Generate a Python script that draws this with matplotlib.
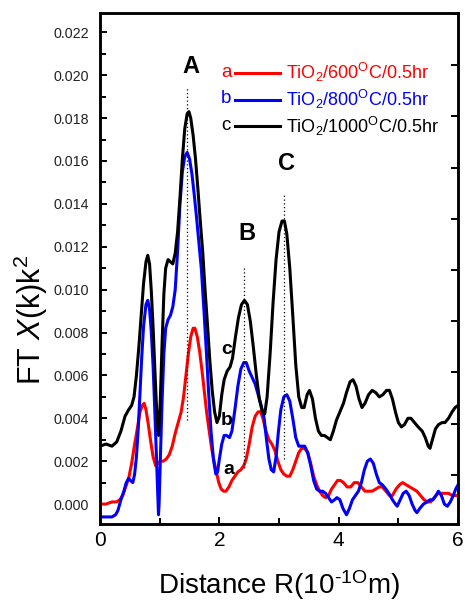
import matplotlib
matplotlib.use("Agg")
import matplotlib.pyplot as plt
from matplotlib.ticker import MultipleLocator

plt.rcParams['font.family'] = ['Liberation Sans', 'DejaVu Sans']
plt.rcParams['mathtext.fontset'] = 'custom'
plt.rcParams['mathtext.rm'] = 'Liberation Sans'
plt.rcParams['mathtext.it'] = 'Liberation Sans:italic'
plt.rcParams['mathtext.bf'] = 'Liberation Sans:bold'

# ---- data (R in 1e-10 m, FT magnitude) ----
c_x = [0.00, 0.10, 0.20, 0.28, 0.35, 0.42, 0.48, 0.53, 0.57, 0.61, 0.65, 0.69, 0.73, 0.77, 0.80,
       0.83, 0.86, 0.89, 0.92, 0.95, 0.98, 1.01, 1.04, 1.07, 1.10, 1.14, 1.18, 1.22, 1.26, 1.30,
       1.34, 1.38, 1.42, 1.46, 1.49, 1.52, 1.56, 1.60, 1.64, 1.68, 1.72, 1.76, 1.80, 1.84, 1.88,
       1.92, 1.96, 2.00, 2.04, 2.08, 2.13, 2.18, 2.22, 2.27, 2.32, 2.37, 2.42, 2.47, 2.52, 2.57,
       2.62, 2.67, 2.72, 2.76, 2.80, 2.85, 2.90, 2.95, 3.00, 3.05, 3.09, 3.13, 3.18, 3.23, 3.28,
       3.33, 3.38, 3.42, 3.47, 3.51, 3.56, 3.61, 3.66, 3.71, 3.76, 3.81, 3.86, 3.91, 3.96, 4.02,
       4.08, 4.13, 4.19, 4.24, 4.29, 4.34, 4.39, 4.44, 4.50, 4.56, 4.62, 4.68, 4.74, 4.80, 4.85,
       4.90, 4.95, 5.00, 5.05, 5.10, 5.16, 5.21, 5.27, 5.33, 5.40, 5.45, 5.50, 5.53, 5.57, 5.62,
       5.67, 5.73, 5.78, 5.84, 5.90, 5.95, 6.00]
c_y = [0.0027, 0.0028, 0.0027, 0.0029, 0.0034, 0.0041, 0.0044, 0.0046, 0.0050, 0.0060, 0.0073,
       0.0088, 0.0103, 0.0113, 0.0116, 0.0112, 0.0099, 0.0082, 0.0062, 0.0043, 0.0032, 0.0048,
       0.0075, 0.0098, 0.0110, 0.0114, 0.0113, 0.0112, 0.0117, 0.0127, 0.0143, 0.0161, 0.0175,
       0.0182, 0.0183, 0.0180, 0.0172, 0.0161, 0.0147, 0.0132, 0.0118, 0.0100, 0.0084, 0.0067,
       0.0053, 0.0043, 0.0038, 0.0041, 0.0051, 0.0058, 0.0062, 0.0064, 0.0068, 0.0078, 0.0087,
       0.0093, 0.0095, 0.0093, 0.0085, 0.0073, 0.0060, 0.0049, 0.0043, 0.0042, 0.0050, 0.0070,
       0.0094, 0.0114, 0.0127, 0.0132, 0.0132, 0.0126, 0.0110, 0.0088, 0.0065, 0.0050, 0.0045,
       0.0045, 0.0051, 0.0053, 0.0049, 0.0040, 0.0034, 0.0032, 0.0032, 0.0031, 0.0030, 0.0034,
       0.0039, 0.0043, 0.0047, 0.0052, 0.0057, 0.0058, 0.0055, 0.0049, 0.0045, 0.0047, 0.0051,
       0.0053, 0.0052, 0.0050, 0.0051, 0.0053, 0.0053, 0.0049, 0.0043, 0.0038, 0.0036, 0.0037,
       0.0040, 0.0040, 0.0038, 0.0036, 0.0034, 0.0031, 0.0027, 0.0026, 0.0030, 0.0035, 0.0037,
       0.0038, 0.0038, 0.0040, 0.0043, 0.0045, 0.0046]

b_x = [0.00, 0.10, 0.20, 0.26, 0.30, 0.35, 0.40, 0.44, 0.48, 0.51, 0.55, 0.58, 0.61, 0.64, 0.67,
       0.70, 0.73, 0.77, 0.80, 0.83, 0.86, 0.89, 0.92, 0.95, 0.97, 0.98, 0.99, 1.01, 1.04, 1.07,
       1.10, 1.14, 1.18, 1.22, 1.26, 1.30, 1.34, 1.38, 1.42, 1.46, 1.50, 1.54, 1.58, 1.62, 1.66,
       1.70, 1.74, 1.78, 1.82, 1.86, 1.90, 1.94, 1.97, 2.00, 2.04, 2.08, 2.12, 2.17, 2.21, 2.26,
       2.31, 2.36, 2.41, 2.45, 2.50, 2.55, 2.60, 2.65, 2.70, 2.75, 2.79, 2.83, 2.87, 2.91, 2.95,
       2.99, 3.03, 3.08, 3.13, 3.18, 3.23, 3.28, 3.33, 3.38, 3.43, 3.48, 3.53, 3.58, 3.63, 3.68,
       3.73, 3.78, 3.83, 3.88, 3.93, 3.97, 4.02, 4.07, 4.13, 4.18, 4.23, 4.28, 4.33, 4.38, 4.43,
       4.48, 4.53, 4.58, 4.63, 4.68, 4.73, 4.79, 4.84, 4.90, 4.95, 4.98, 5.03, 5.08, 5.13, 5.18,
       5.23, 5.28, 5.31, 5.36, 5.42, 5.48, 5.53, 5.58, 5.63, 5.67, 5.72, 5.77, 5.82, 5.87, 5.92,
       5.96, 6.00]
b_y = [-0.0006, -0.0006, -0.0006, -0.0005, -0.0003, 0.0002, 0.0006, 0.0010, 0.0012, 0.0011,
       0.0010, 0.0014, 0.0022, 0.0035, 0.0052, 0.0069, 0.0083, 0.0093, 0.0095, 0.0091, 0.0080,
       0.0064, 0.0042, 0.0018, 0.0001, -0.0005, 0.0000, 0.0020, 0.0048, 0.0070, 0.0082, 0.0086,
       0.0088, 0.0092, 0.0100, 0.0118, 0.0140, 0.0155, 0.0162, 0.0164, 0.0161, 0.0154, 0.0144,
       0.0133, 0.0121, 0.0109, 0.0091, 0.0072, 0.0052, 0.0034, 0.0021, 0.0014, 0.0015, 0.0021,
       0.0028, 0.0032, 0.0032, 0.0031, 0.0034, 0.0044, 0.0055, 0.0063, 0.0066, 0.0066, 0.0062,
       0.0059, 0.0056, 0.0051, 0.0046, 0.0040, 0.0030, 0.0021, 0.0016, 0.0015, 0.0022, 0.0034,
       0.0044, 0.0050, 0.0051, 0.0048, 0.0040, 0.0031, 0.0027, 0.0027, 0.0027, 0.0024, 0.0018,
       0.0011, 0.0007, 0.0006, 0.0006, 0.0005, 0.0003, 0.0001, 0.0002, 0.0003, 0.0002, -0.0002,
       -0.0005, -0.0002, 0.0002, 0.0004, 0.0006, 0.0010, 0.0016, 0.0020, 0.0021, 0.0019, 0.0014,
       0.0010, 0.0009, 0.0007, 0.0005, 0.0002, 0.0000, -0.0001, 0.0002, 0.0005, 0.0006, 0.0004,
       0.0000, -0.0003, -0.0004, -0.0002, 0.0000, 0.0001, 0.0002, 0.0002, 0.0004, 0.0006, 0.0004,
       0.0000, -0.0001, 0.0001, 0.0004, 0.0007, 0.0009]

a_x = [0.00, 0.10, 0.20, 0.28, 0.33, 0.38, 0.43, 0.48, 0.53, 0.58, 0.63, 0.67, 0.71, 0.74, 0.77,
       0.81, 0.85, 0.89, 0.93, 0.97, 1.01, 1.06, 1.11, 1.16, 1.21, 1.26, 1.31, 1.36, 1.40, 1.44,
       1.48, 1.52, 1.56, 1.59, 1.63, 1.67, 1.71, 1.75, 1.79, 1.83, 1.87, 1.91, 1.95, 1.99, 2.03,
       2.07, 2.11, 2.16, 2.21, 2.26, 2.31, 2.36, 2.41, 2.45, 2.50, 2.55, 2.60, 2.65, 2.69, 2.73,
       2.78, 2.83, 2.88, 2.93, 2.98, 3.03, 3.08, 3.13, 3.18, 3.23, 3.28, 3.33, 3.38, 3.43, 3.48,
       3.53, 3.58, 3.63, 3.68, 3.73, 3.78, 3.83, 3.88, 3.93, 3.98, 4.03, 4.08, 4.14, 4.20, 4.26,
       4.32, 4.38, 4.44, 4.50, 4.56, 4.62, 4.68, 4.73, 4.79, 4.85, 4.90, 4.96, 5.02, 5.07, 5.13,
       5.19, 5.25, 5.31, 5.37, 5.43, 5.49, 5.54, 5.60, 5.66, 5.72, 5.78, 5.84, 5.90, 5.96, 6.00]
a_y = [0.0000, 0.0000, 0.0001, 0.0001, 0.0002, 0.0004, 0.0008, 0.0012, 0.0019, 0.0028, 0.0036,
       0.0043, 0.0046, 0.0047, 0.0044, 0.0037, 0.0029, 0.0022, 0.0018, 0.0019, 0.0020, 0.0020,
       0.0021, 0.0023, 0.0027, 0.0033, 0.0038, 0.0043, 0.0050, 0.0060, 0.0070, 0.0078, 0.0082,
       0.0082, 0.0078, 0.0071, 0.0062, 0.0052, 0.0042, 0.0034, 0.0026, 0.0020, 0.0015, 0.0010,
       0.0007, 0.0006, 0.0006, 0.0008, 0.0011, 0.0013, 0.0015, 0.0016, 0.0018, 0.0021, 0.0028,
       0.0036, 0.0041, 0.0043, 0.0043, 0.0040, 0.0034, 0.0030, 0.0028, 0.0025, 0.0020, 0.0016,
       0.0014, 0.0013, 0.0013, 0.0016, 0.0020, 0.0024, 0.0026, 0.0026, 0.0024, 0.0019, 0.0013,
       0.0009, 0.0006, 0.0004, 0.0003, 0.0004, 0.0007, 0.0009, 0.0011, 0.0011, 0.0010, 0.0008,
       0.0008, 0.0010, 0.0010, 0.0008, 0.0006, 0.0006, 0.0006, 0.0007, 0.0008, 0.0008, 0.0006,
       0.0004, 0.0004, 0.0007, 0.0009, 0.0010, 0.0009, 0.0008, 0.0007, 0.0006, 0.0004, 0.0002,
       0.0001, 0.0001, 0.0003, 0.0005, 0.0005, 0.0005, 0.0005, 0.0004, 0.0004, 0.0004]

series_labels = [r'TiO$_2$/600$^{\mathregular{O}}$C/0.5hr',
                 r'TiO$_2$/800$^{\mathregular{O}}$C/0.5hr',
                 r'TiO$_2$/1000$^{\mathregular{O}}$C/0.5hr']
series_tags = ['a', 'b', 'c']
series_colors = ['#ff0000', '#0000ff', '#000000']

# peak guide lines: positions and extents
peak_names = ['A', 'B', 'C']
peak_x = [1.45, 2.42, 3.08]
peak_ymin = [0.0039, 0.0017, 0.0021]
peak_ymax = [0.0194, 0.0111, 0.0145]
peak_label_y = [0.0204, 0.0126, 0.0159]
peak_label_x = [1.52, 2.47, 3.12]

# curve tags near B
curve_tag_x = [2.16, 2.13, 2.13]
curve_tag_y = [0.0016, 0.0039, 0.0072]

fig = plt.figure(figsize=(4.65, 6.03), dpi=100)
ax = fig.add_axes([0.2151, 0.131, 0.770, 0.8474])

lines = []
for xs, ys, lab, col in zip([a_x, b_x, c_x], [a_y, b_y, c_y], series_labels, series_colors):
    ln, = ax.plot(xs, ys, color=col, lw=2.2, label=lab, solid_joinstyle='round')
    lines.append(ln)

ax.vlines(peak_x, peak_ymin, peak_ymax, colors='black', linestyles=(0, (1, 2)), lw=0.9)
for nm, px, py in zip(peak_names, peak_label_x, peak_label_y):
    ax.text(px, py, nm, fontsize=17, fontweight='bold', ha='center', va='center')
for tg, tx, ty in zip(series_tags, curve_tag_x, curve_tag_y):
    ax.text(tx, ty, tg, fontsize=14, fontweight='bold', ha='center', va='center')

ax.set_xlim(0, 6)
ax.set_ylim(-0.00093, 0.0229)
ax.xaxis.set_major_locator(MultipleLocator(2))
ax.xaxis.set_minor_locator(MultipleLocator(1))
ax.yaxis.set_major_locator(MultipleLocator(0.002))
ax.yaxis.set_minor_locator(MultipleLocator(0.001))
ax.yaxis.set_major_formatter(matplotlib.ticker.FormatStrFormatter('%.3f'))
ax.tick_params(which='both', direction='in', top=False, right=False, width=1.4)
ax.tick_params(which='major', length=5)
ax.tick_params(which='minor', length=4)
ax.tick_params(axis='y', labelsize=10.3, pad=8, labelcolor='#222222')
ax.tick_params(axis='x', labelsize=15, pad=5)
for sp in ax.spines.values():
    sp.set_linewidth(1.8)

ax2 = ax.twinx()
ax2.set_ylim(0.04, 10.02)
ax2.yaxis.set_major_locator(MultipleLocator(1))
ax2.tick_params(which='both', direction='in', length=5, width=1.4, labelright=False)
for sp in ax2.spines.values():
    sp.set_linewidth(1.8)

ax.set_xlabel(r'Distance R(10$^{\mathregular{\text{-}1O}}$m)', fontsize=20, labelpad=13)
ax.set_ylabel(r'FT $\mathit{X}$(k)k$^{\mathregular{2}}$', fontsize=22, labelpad=12)
ax.yaxis.set_label_coords(-0.14, 0.40)

leg = ax.legend(handles=lines, loc='upper left', bbox_to_anchor=(0.377, 0.906),
                frameon=False, fontsize=13, handlelength=2.5, handletextpad=0.35,
                labelspacing=0.2, borderpad=0, borderaxespad=0, labelcolor='linecolor')
for tg, col, ty in zip(series_tags, series_colors, [0.883, 0.832, 0.779]):
    ax.text(0.352, ty, tg, color=col, fontsize=13.5, ha='center', va='center',
            transform=ax.transAxes)

fig.savefig('out.png', dpi=100)
